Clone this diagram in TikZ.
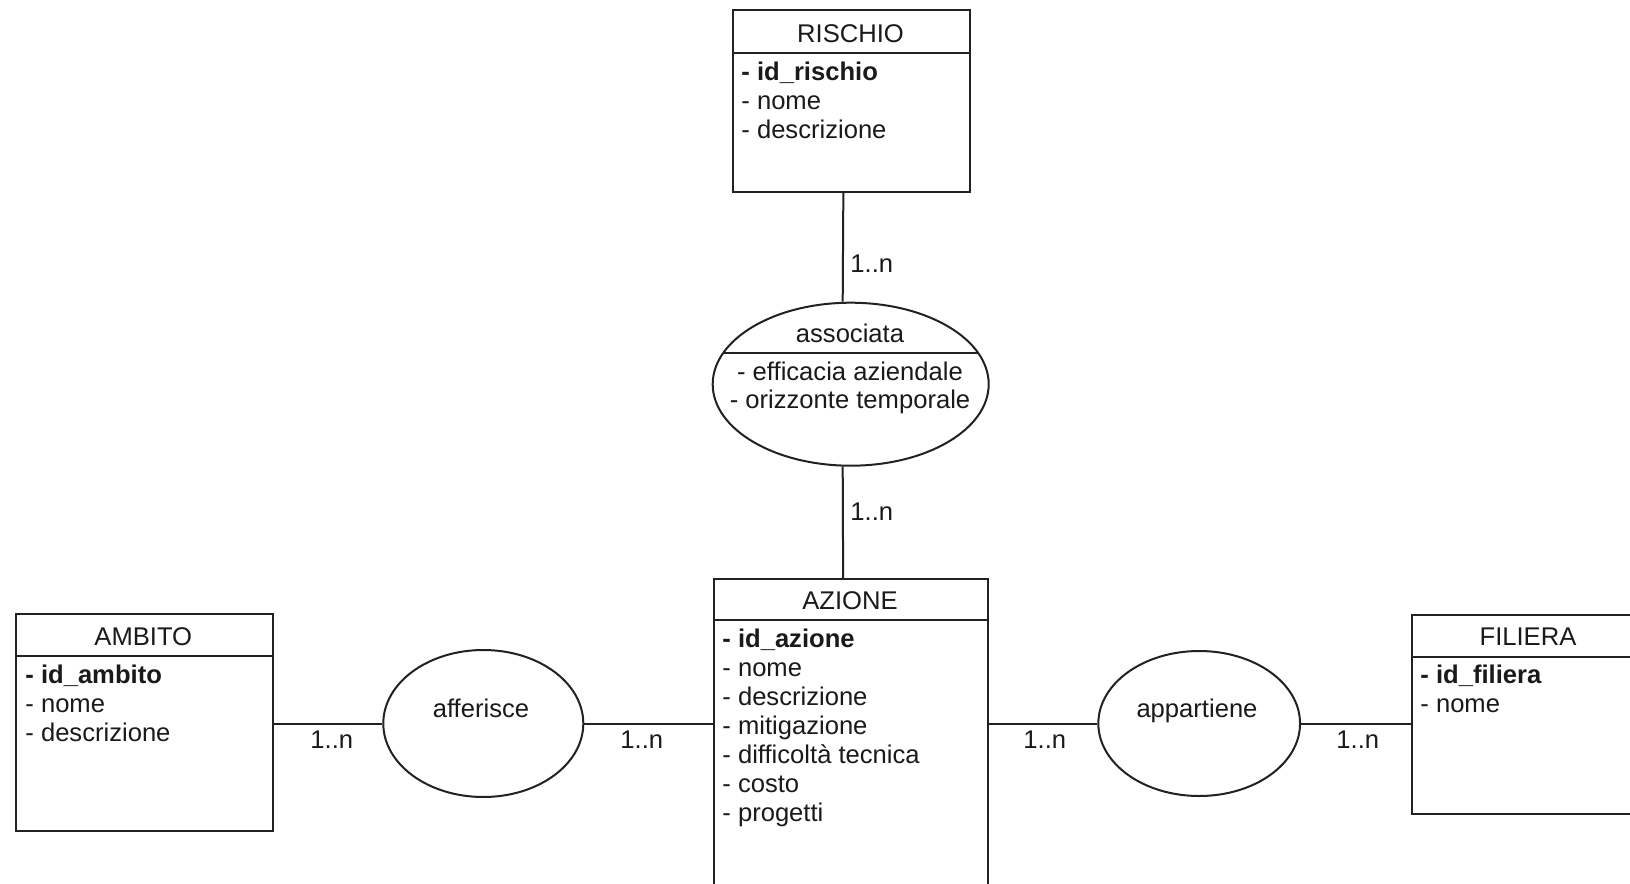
\documentclass[tikz,border=0pt]{standalone}
\usepackage{fontspec}
\setmainfont{Liberation Sans}
\usetikzlibrary{shapes.geometric}
\definecolor{linec}{HTML}{222222}
\definecolor{textc}{HTML}{1A1A1A}
\begin{document}
\begin{tikzpicture}[x=0.5pt,y=-0.5pt]
\tikzset{
 ent/.style={draw=linec, line width=1pt, rectangle, inner sep=0pt, anchor=north west},
 rel/.style={draw=linec, line width=1pt, ellipse, inner sep=0pt},
 conn/.style={draw=linec, line width=1pt},
 txt/.style={inner sep=0pt, font=\fontsize{12.8}{14.5}\selectfont, text=textc},
 attr/.style={txt, anchor=base west},
 keyattr/.style={attr, font=\fontsize{12.8}{14.5}\selectfont\bfseries},
 ttl/.style={txt, anchor=base},
 card/.style={attr}
}
\clip (0,0) rectangle (1630,884);
\fill[white] (0,0) rectangle (1630,884);

% RISCHIO
\node[ent, minimum width=118.65pt, minimum height=91pt] (rischio) at (731.7,9) {};
\node[ent, minimum width=118.65pt, minimum height=21.5pt] (rischioH) at (731.7,9) {};
\node[ttl] (rischioT) at (850.5,42) {RISCHIO};
\node[keyattr] (r1) at (741,80) {- id\_rischio};
\node[attr] (r2) at (741,109) {- nome};
\node[attr] (r3) at (741,138) {- descrizione};

% AZIONE
\node[ent, minimum width=136.85pt, minimum height=161pt] (azione) at (713.3,578) {};
\node[ent, minimum width=136.85pt, minimum height=20.5pt] (azioneH) at (713.3,578) {};
\node[ttl] (azioneT) at (850,609) {AZIONE};
\node[keyattr] (z1) at (722,647) {- id\_azione};
\node[attr] (z2) at (722,676) {- nome};
\node[attr] (z3) at (722,705) {- descrizione};
\node[attr] (z4) at (722,734) {- mitigazione};
\node[attr] (z5) at (722,763) {- difficoltà tecnica};
\node[attr] (z6) at (722,792) {- costo};
\node[attr] (z7) at (722,821) {- progetti};

% AMBITO
\node[ent, minimum width=128.35pt, minimum height=108.35pt] (ambito) at (15,613.3) {};
\node[ent, minimum width=128.35pt, minimum height=20.85pt] (ambitoH) at (15,613.3) {};
\node[ttl] (ambitoT) at (143.3,645) {AMBITO};
\node[keyattr] (a1) at (25,683) {- id\_ambito};
\node[attr] (a2) at (25,712) {- nome};
\node[attr] (a3) at (25,741) {- descrizione};

% FILIERA
\node[ent, minimum width=124.5pt, minimum height=99.35pt] (filiera) at (1411,614) {};
\node[ent, minimum width=124.5pt, minimum height=21pt] (filieraH) at (1411,614) {};
\node[ttl] (filieraT) at (1528,645) {FILIERA};
\node[keyattr] (f1) at (1420,683) {- id\_filiera};
\node[attr] (f2) at (1420,712) {- nome};

% associata
\node[rel, minimum width=138pt, minimum height=81.5pt] (assoc) at (850.7,384.2) {};
\draw[conn] ([shift={(-127.8,-30.9)}]assoc.center) -- ([shift={(127.8,-30.9)}]assoc.center);
\node[ttl] (assocT) at (850,342) {associata};
\node[ttl] (as1) at (850,380) {- efficacia aziendale};
\node[ttl] (as2) at (850,408) {- orizzonte temporale};

% afferisce
\node[rel, minimum width=100pt, minimum height=73.5pt] (aff) at (483.3,723.5) {};
\node[ttl] (affT) at (481,717) {afferisce};

% appartiene
\node[rel, minimum width=100.85pt, minimum height=72.5pt] (app) at (1199.2,723.5) {};
\node[ttl] (appT) at (1197,717) {appartiene};

% connectors
\draw[conn] ([xshift=-4pt]rischio.south) -- ([xshift=-4pt]assoc.north);
\draw[conn] ([xshift=-4pt]assoc.south) -- ([xshift=-4pt]azione.north);
\draw[conn] (aff.west -| ambito.east) -- (aff.west);
\draw[conn] (aff.east) -- (aff.east -| azione.west);
\draw[conn] (app.west -| azione.east) -- (app.west);
\draw[conn] (app.east) -- (app.east -| filiera.west);

% cardinalities
\node[card] (c1) at (850,272) {1..n};
\node[card] (c2) at (850,520) {1..n};
\node[card] (c3) at (310,748) {1..n};
\node[card] (c4) at (620,748) {1..n};
\node[card] (c5) at (1023,748) {1..n};
\node[card] (c6) at (1336,748) {1..n};
\end{tikzpicture}
\end{document}
